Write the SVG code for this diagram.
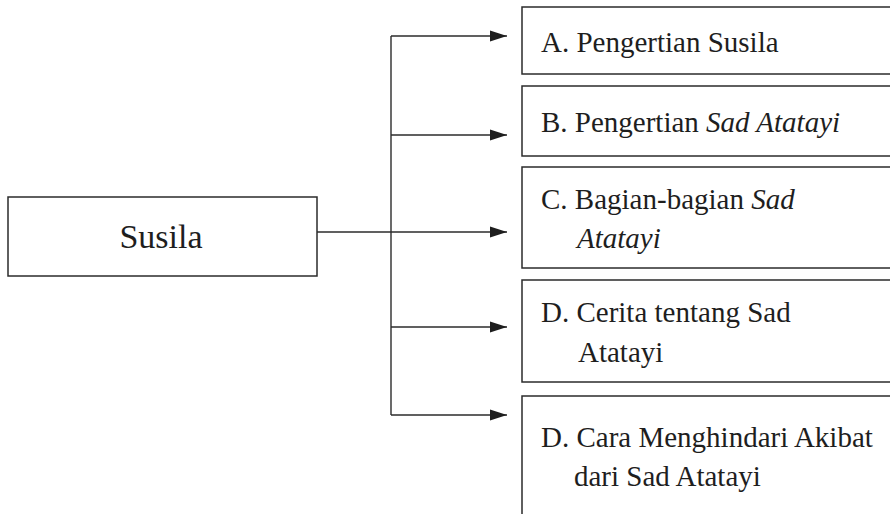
<svg xmlns="http://www.w3.org/2000/svg" width="890" height="514" viewBox="0 0 890 514">
<defs>
<style>
.box{fill:#fff;stroke:#2b2b2b;stroke-width:1.5}
.lbl{font-family:"Liberation Serif","Times New Roman",serif;font-size:29px;fill:#1e1e1e}
.main{font-family:"Liberation Serif","Times New Roman",serif;font-size:34px;fill:#1e1e1e}
.it{font-style:italic}
.con{fill:none;stroke:#2b2b2b;stroke-width:1.4}
</style>
<marker id="arr" markerUnits="userSpaceOnUse" markerWidth="17" markerHeight="12" refX="17" refY="6" orient="auto">
<path d="M0,0.5 L17,6 L0,11.5 z" fill="#1e1e1e"/>
</marker>
</defs>
<rect width="890" height="514" fill="#fff"/>
<g id="connectors">
<path class="con" d="M391,36 V415"/>
<path class="con" d="M391,36 H507" marker-end="url(#arr)"/>
<path class="con" d="M391,135 H507" marker-end="url(#arr)"/>
<path class="con" d="M317,232 H507" marker-end="url(#arr)"/>
<path class="con" d="M391,327 H507" marker-end="url(#arr)"/>
<path class="con" d="M391,415 H507" marker-end="url(#arr)"/>
</g>
<g id="susila">
<rect class="box" x="8" y="197" width="309" height="79"/>
<text class="main" x="161" y="248" text-anchor="middle">Susila</text>
</g>
<g id="nodeA">
<rect class="box" x="522" y="7" width="380" height="67"/>
<text class="lbl" x="541" y="52">A. Pengertian Susila</text>
</g>
<g id="nodeB">
<rect class="box" x="522" y="86" width="380" height="70"/>
<text class="lbl" x="541" y="132">B. Pengertian <tspan class="it">Sad Atatayi</tspan></text>
</g>
<g id="nodeC">
<rect class="box" x="522" y="167" width="380" height="101"/>
<text class="lbl" x="541" y="209">C. Bagian-bagian <tspan class="it">Sad</tspan></text>
<text class="lbl it" x="577" y="248">Atatayi</text>
</g>
<g id="nodeD">
<rect class="box" x="522" y="280" width="380" height="102"/>
<text class="lbl" x="541" y="322">D. Cerita tentang Sad</text>
<text class="lbl" x="578" y="362">Atatayi</text>
</g>
<g id="nodeE">
<rect class="box" x="522" y="396" width="380" height="140"/>
<text class="lbl" x="541" y="447">D. Cara Menghindari Akibat</text>
<text class="lbl" x="574" y="486">dari Sad Atatayi</text>
</g>
</svg>
